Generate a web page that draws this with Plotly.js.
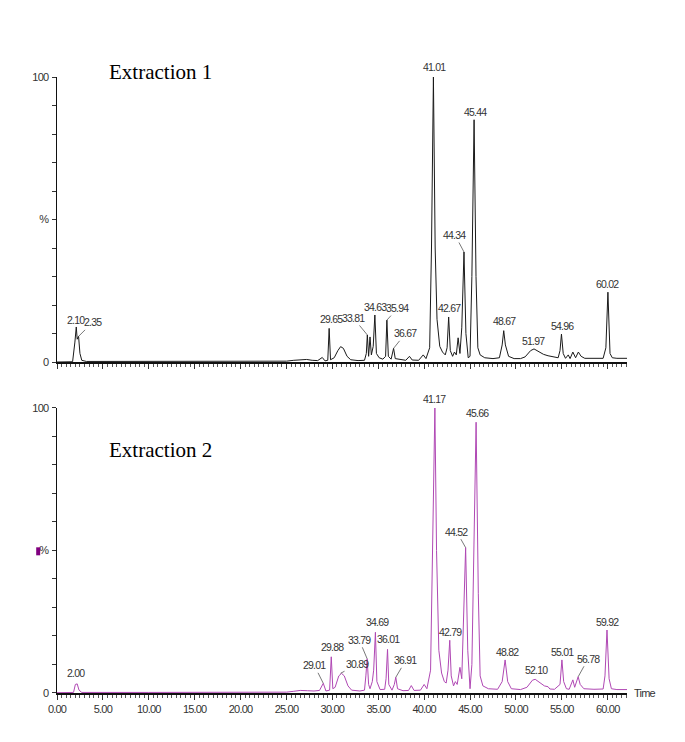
<!DOCTYPE html>
<html>
<head>
<meta charset="utf-8">
<script src="https://cdn.plot.ly/plotly-3.0.1.min.js"></script>
<style>
html,body{margin:0;padding:0;background:#fff;}
#chart{width:685px;height:742px;}
svg text.annotation-text, svg .xtick text, svg .ytick text, svg .x2tick text, svg .y2tick text {letter-spacing:-0.8px;}
svg text.annotation-text[style*="Serif"] {letter-spacing:0px !important;}
</style>
</head>
<body>
<div id="chart"></div>
<script>
// ---- Data (retention time in min, relative abundance %) ----
const time1 = [0,1.7,1.95,2.1,2.2,2.35,2.5,2.7,3.2,10,20,25,25.8,26.5,27.2,27.8,28.4,28.9,29.2,29.5,29.65,29.8,30.2,30.6,30.9,31.2,31.6,32.0,32.8,33.5,33.7,33.81,33.95,34.1,34.25,34.45,34.63,34.8,35.1,35.5,35.8,35.94,36.1,36.4,36.67,36.85,37.5,38.0,38.4,38.7,39.4,39.9,40.2,40.6,40.8,41.01,41.2,41.4,41.7,42.0,42.3,42.5,42.67,42.85,43.1,43.3,43.5,43.7,43.9,44.1,44.34,44.55,44.8,45.0,45.2,45.44,45.65,45.85,46.1,46.6,47.5,48.2,48.5,48.67,48.85,49.2,49.8,50.5,51.0,51.6,51.97,52.5,53.0,53.5,54.0,54.6,54.8,54.96,55.15,55.4,55.7,55.9,56.2,56.5,56.8,57.1,57.5,58.5,59.5,59.8,60.02,60.25,60.5,61.0,62.1];
const abund1 = [0,0.1,7,12.3,8,9,3,0.6,0.2,0.2,0.2,0.3,0.6,0.8,0.9,0.6,0.5,1.6,0.4,0.6,11.8,0.8,1.5,4,5.4,4.8,2,0.8,0.5,0.6,3,9.5,2,8.8,2.5,5.5,16.5,3,1.5,1,2,14.7,2,1,4.8,1.2,0.8,0.6,2,0.7,0.6,2.5,1.2,5,40,100,40,15,5.5,3.5,2.5,5,15.8,4,2,3.5,2.5,8.5,3,12,38.6,10,1.5,2,30,85,30,5,2.5,1.5,1.2,1.5,6,11,6,2,1.2,1.2,1.8,4,4.6,3.5,2.7,2.2,1.8,1.5,4,9.8,3,1.3,2.5,1.2,3.5,1.5,3.5,2,1.3,1.2,1.3,5,24.5,3,1.5,1.3,1.3];

const time2 = [0,1.8,2.0,2.2,2.4,2.7,10,20,25,25.8,26.5,27.3,28,28.6,29.01,29.3,29.7,29.88,30.05,30.3,30.7,31.0,31.3,31.7,32.1,33,33.5,33.65,33.79,33.95,34.1,34.35,34.5,34.69,34.85,35.2,35.7,35.85,36.01,36.15,36.5,36.75,36.91,37.1,37.7,38.3,38.6,38.9,39.6,40.0,40.3,40.7,40.95,41.17,41.35,41.6,41.9,42.2,42.4,42.6,42.79,42.95,43.2,43.4,43.6,43.9,44.1,44.3,44.52,44.75,45.0,45.2,45.45,45.66,45.9,46.1,46.4,47,48,48.5,48.82,49.1,49.5,50.5,51.2,51.8,52.1,52.6,53.1,53.5,53.7,54.2,54.8,55.01,55.2,55.5,55.8,56.2,56.4,56.78,57.0,57.4,58.5,59.5,59.7,59.92,60.15,60.4,61,62.1];
const abund2 = [0.1,0.2,3,3.2,1,0.2,0.2,0.2,0.3,0.6,0.9,0.8,0.7,0.9,3.4,0.7,1,12.7,1.5,2,6,6.9,6,2.5,1,0.7,1,6,12,3,1.5,4,8,21.3,4,1.2,1.3,5,15.3,3,1,3,5.5,1.5,0.8,0.9,2.6,0.9,1,3,1.5,8,50,100,50,15,7,4,3.5,8,18.5,6,2.5,4,3,9,5,25,51,15,1.5,10,60,95,35,6,2.5,1.5,1.3,4,11.6,4,1.5,1.2,2,4.5,4.8,3.8,2.5,2.2,1.4,1.3,3,11.6,4,1.5,1.3,4.6,2,5.7,3,1.5,1.3,1.4,6,22.1,5,1.5,1.2,1.2];

// Peak labels (retention time, apex abundance)
const peaks1 = [2.10,2.35,29.65,33.81,34.63,35.94,36.67,41.01,42.67,44.34,45.44,48.67,51.97,54.96,60.02];
const peakH1 = [12.3,9,11.8,9.5,16.5,14.7,4.8,100,15.8,38.6,85,11,4.6,9.8,24.5];
const peaks2 = [2.00,29.01,29.88,30.89,33.79,34.69,36.01,36.91,41.17,42.79,44.52,45.66,48.82,52.10,55.01,56.78,59.92];
const peakH2 = [3,3.4,12.7,6.9,12,21.3,15.3,5.5,100,18.5,51,95,11.6,4.8,11.6,5.7,22.1];

const panelTitles = ["Extraction 1", "Extraction 2"];
const yTickVals = [0,10,20,30,40,50,60,70,80,90,100];
const yTickText = ["0","","","","","%","","","","","100"];

// ---- Label placement (pixel offsets of label centre from apex; third value = leader line) ----
const off1 = {"2.35":[14,-14,1],"33.81":[-14,-17,1],"35.94":[11,-12,1],"36.67":[12,-15,1],"44.34":[-9,-17,1],
              "2.10":[0,-7,0],"29.65":[2,-9,0],"34.63":[1,-8,0],"41.01":[1,-10,0],"42.67":[1,-9,0],"45.44":[1,-8,0],
              "48.67":[1,-10,0],"51.97":[-1,-8,0],"54.96":[1,-8,0],"60.02":[0,-8,0]};
const off2 = {"2.00":[1,-11,0],"29.01":[-9,-18,1],"29.88":[1,-10,0],"30.89":[17,-9,1],"33.79":[-8,-19,1],
              "34.69":[2,-10,0],"36.01":[1,-10,0],"36.91":[10,-17,1],"41.17":[0,-9,0],"42.79":[1,-8,0],
              "44.52":[-9,-16,1],"45.66":[1,-9,0],"48.82":[2,-8,0],"52.10":[1,-9,0],"55.01":[1,-8,0],
              "56.78":[10,-18,1],"59.92":[1,-8,0]};

const narrow = "Liberation Sans, Arial, sans-serif";
const labFont = {family: narrow, size: 10.5, color: "#333"};

function makeLabels(times, heights, offs, xr, yr) {
  return times.map((t, i) => {
    const key = t.toFixed(2);
    const o = offs[key] || [0,-9,0];
    const a = {x: t, y: heights[i], xref: xr, yref: yr, text: key, font: labFont};
    if (o[2]) {
      Object.assign(a, {showarrow: true, arrowhead: 0, arrowwidth: 0.8, arrowcolor: "#555",
                        ax: o[0], ay: o[1], standoff: 0, startstandoff: 0});
    } else {
      Object.assign(a, {showarrow: false, xshift: o[0], yshift: -o[1]});
    }
    return a;
  });
}

const traces = [
  {x: time1, y: abund1, xaxis: "x", yaxis: "y", type: "scatter", mode: "lines",
   line: {color: "#1a1a1a", width: 1}, hoverinfo: "skip"},
  {x: time2, y: abund2, xaxis: "x2", yaxis: "y2", type: "scatter", mode: "lines",
   line: {color: "#b048b4", width: 1}, hoverinfo: "skip"}
];

function xax(anchor, labels) {
  return {anchor: anchor, domain: [0,1], range: [0,62.1], showgrid: false, zeroline: false,
          showline: true, linewidth: 2, linecolor: "#111", ticks: "outside", ticklen: 5, tickwidth: 1,
          tickcolor: "#333", tick0: 0, dtick: 5, tickformat: ".2f", showticklabels: labels,
          tickfont: {family: narrow, size: 11, color: "#333"},
          minor: {ticks: "outside", dtick: 0.5, ticklen: 3, tickwidth: 1, tickcolor: "#555", showgrid: false}};
}
function yax(anchor, dom) {
  return {anchor: anchor, domain: dom, range: [0,100], showgrid: false, zeroline: false,
          showline: true, linewidth: 1.5, linecolor: "#111", ticks: "outside", ticklen: 4, tickwidth: 1,
          tickcolor: "#333", tickvals: yTickVals, ticktext: yTickText, ticklabelstandoff: 1,
          tickfont: {family: narrow, size: 11, color: "#333"}};
}

const titleFont = {family: "Liberation Serif, Times New Roman, serif", size: 21, color: "#000"};
const annotations = []
  .concat(makeLabels(peaks1, peakH1, off1, "x", "y"))
  .concat(makeLabels(peaks2, peakH2, off2, "x2", "y2"))
  .concat([
    {xref: "paper", yref: "paper", x: 0.087, y: 1.008, xanchor: "left", yanchor: "middle",
     text: panelTitles[0], showarrow: false, font: titleFont},
    {xref: "paper", yref: "paper", x: 0.087, y: 0.394, xanchor: "left", yanchor: "middle",
     text: panelTitles[1], showarrow: false, font: titleFont},
    {xref: "paper", yref: "paper", x: 1.008, y: 0, xanchor: "left", yanchor: "middle",
     text: "Time", showarrow: false, font: {family: narrow, size: 11, color: "#333"}}
  ]);

const layout = {
  width: 685, height: 742,
  margin: {l: 57, r: 58, t: 77, b: 49},
  paper_bgcolor: "#fff", plot_bgcolor: "#fff", showlegend: false,
  xaxis: xax("y", false),
  yaxis: yax("x", [0.5373, 1]),
  xaxis2: xax("y2", true),
  yaxis2: yax("x2", [0, 0.4627]),
  annotations: annotations,
  shapes: [{type: "rect", xref: "paper", yref: "paper", x0: -0.0365, x1: -0.0295, y0: 0.2235, y1: 0.2365,
            fillcolor: "#800080", line: {width: 0}}]
};

Plotly.newPlot("chart", traces, layout, {staticPlot: true, displayModeBar: false});
</script>
</body>
</html>
